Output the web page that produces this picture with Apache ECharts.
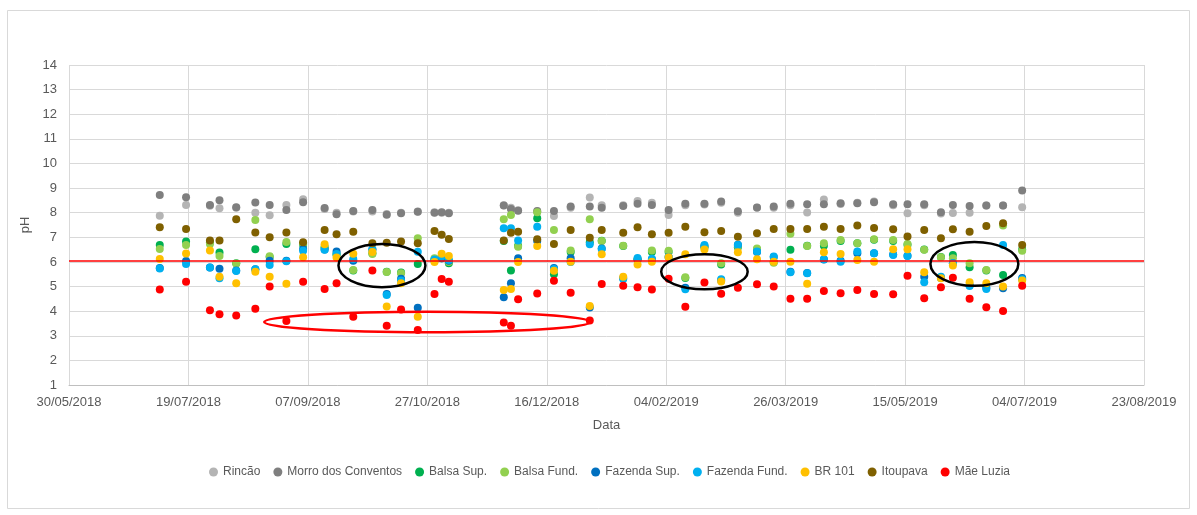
<!DOCTYPE html>
<html>
<head>
<meta charset="utf-8">
<title>pH</title>
<script src="https://cdn.jsdelivr.net/npm/echarts@6/dist/echarts.min.js"></script>
<style>
  html, body { margin: 0; padding: 0; background: #fff; }
  #phChart { width: 1197px; height: 515px; }
</style>
</head>
<body>
<div id="phChart"></div>
<script>
// datas de coleta
var datas = [
  "07/07/2018", "18/07/2018", "28/07/2018", "01/08/2018", "08/08/2018", "16/08/2018", "22/08/2018", "29/08/2018", "05/09/2018", "14/09/2018",
  "19/09/2018", "26/09/2018", "04/10/2018", "10/10/2018", "16/10/2018", "23/10/2018", "30/10/2018", "02/11/2018", "05/11/2018", "28/11/2018",
  "01/12/2018", "04/12/2018", "12/12/2018", "19/12/2018", "26/12/2018", "03/01/2019", "08/01/2019", "17/01/2019", "23/01/2019", "29/01/2019",
  "05/02/2019", "12/02/2019", "20/02/2019", "27/02/2019", "06/03/2019", "14/03/2019", "21/03/2019", "28/03/2019", "04/04/2019", "11/04/2019",
  "18/04/2019", "25/04/2019", "02/05/2019", "10/05/2019", "16/05/2019", "23/05/2019", "30/05/2019", "04/06/2019", "11/06/2019", "18/06/2019",
  "25/06/2019", "03/07/2019"
];

// pH por ponto
var rincao = [
  7.88, 8.31, 8.28, 8.18, 8.2, 8.0, 7.9, 8.31, 8.55, 8.15,
  8.0, 8.05, 8.05, 7.95, 8.0, 8.05, 8.02, 8.0, 8.0, 8.3,
  8.2, 8.1, 8.05, 7.87, 8.2, 8.62, 8.3, 8.3, 8.48, 8.4,
  7.91, 8.3, 8.33, 8.4, 8.0, 8.2, 8.2, 8.3, 8.01, 8.54,
  8.35, 8.4, 8.45, 8.3, 7.98, 8.3, 7.97, 7.99, 8.0, 8.29,
  8.29, 8.22
];
var morroConventos = [
  8.72, 8.63, 8.31, 8.51, 8.22, 8.41, 8.31, 8.11, 8.42, 8.19,
  7.94, 8.07, 8.11, 7.92, 7.98, 8.04, 8.0, 8.02, 7.98, 8.29,
  8.15, 8.08, 8.07, 8.07, 8.25, 8.25, 8.2, 8.27, 8.36, 8.31,
  8.11, 8.36, 8.36, 8.45, 8.06, 8.21, 8.25, 8.36, 8.34, 8.34,
  8.38, 8.38, 8.42, 8.34, 8.34, 8.34, 8.02, 8.31, 8.27, 8.29,
  8.29, 8.9
];
var balsaSup = [
  6.69, 6.83, 6.8, 6.38, 5.95, 6.51, 6.2, 6.73, 6.7, 6.6,
  6.3, 5.65, 6.35, 5.6, 5.57, 5.92, 6.1, 6.15, 5.95, 6.85,
  5.65, 6.66, 7.77, 5.5, 6.4, 6.8, 6.86, 6.65, 6.1, 6.4,
  6.4, 5.35, 6.6, 5.9, 6.6, 6.5, 6.0, 6.49, 6.66, 6.66,
  6.85, 6.76, 6.9, 6.85, 6.7, 6.5, 6.2, 6.28, 5.78, 5.65,
  5.47, 6.5
];
var balsaFund = [
  6.53, 6.69, 6.73, 6.24, 5.94, 7.7, 6.23, 6.81, 6.75, 6.6,
  6.3, 5.67, 6.32, 5.59, 5.54, 6.96, 6.15, 6.2, 6.0, 7.73,
  7.91, 6.62, 8.02, 7.3, 6.46, 7.73, 6.85, 6.66, 6.1, 6.46,
  6.45, 5.38, 6.6, 5.95, 6.65, 6.55, 5.97, 7.14, 6.65, 6.76,
  6.89, 6.76, 6.92, 6.89, 6.73, 6.49, 6.19, 6.15, 5.95, 5.67,
  7.48, 6.45
];
var fazendaSup = [
  5.75, 6.04, 5.77, 5.72, 5.65, 5.7, 6.05, 6.05, 6.53, 6.5,
  6.42, 6.05, 6.5, 4.7, 5.32, 4.14, 6.05, 6.15, 6.05, 4.56,
  5.13, 6.15, 6.85, 5.75, 6.15, 4.15, 6.55, 5.35, 6.1, 6.1,
  6.2, 4.95, 6.65, 5.25, 6.7, 6.4, 6.2, 5.6, 5.55, 6.1,
  6.05, 6.35, 6.35, 6.3, 6.25, 5.4, 5.35, 5.95, 5.05, 4.95,
  4.93, 5.35
];
var fazendaFund = [
  5.73, 5.92, 5.77, 5.34, 5.63, 5.7, 5.88, 6.03, 6.45, 6.49,
  6.32, 6.12, 6.51, 4.66, 5.25, 6.41, 6.1, 6.22, 6.08, 7.37,
  7.37, 6.87, 7.43, 5.71, 6.0, 6.72, 6.52, 5.31, 6.16, 6.13,
  6.2, 4.89, 6.69, 5.3, 6.69, 6.42, 6.22, 5.58, 5.54, 6.11,
  6.01, 6.42, 6.35, 6.28, 6.24, 5.17, 5.4, 5.95, 5.02, 4.9,
  6.69, 5.3
];
var br101 = [
  6.12, 6.34, 6.46, 5.4, 5.13, 5.6, 5.4, 5.11, 6.19, 6.72,
  6.18, 6.33, 6.4, 4.19, 5.13, 3.77, 6.0, 6.33, 6.24, 4.86,
  4.9, 6.0, 6.65, 5.64, 6.01, 4.21, 6.31, 5.4, 5.9, 6.01,
  6.19, 6.31, 6.5, 5.2, 6.39, 6.11, 6.01, 6.01, 5.11, 6.39,
  6.32, 6.08, 6.01, 6.51, 6.51, 5.58, 5.34, 5.85, 5.17, 5.13,
  5.0, 5.25
];
var itoupava = [
  7.41, 7.34, 6.87, 6.87, 7.73, 7.2, 7.0, 7.2, 6.8, 7.3,
  7.12, 7.23, 6.76, 6.78, 6.83, 6.76, 7.26, 7.1, 6.93, 6.87,
  7.19, 7.23, 6.92, 6.73, 7.3, 6.98, 7.3, 7.19, 7.41, 7.12,
  7.19, 7.43, 7.21, 7.26, 7.02, 7.16, 7.34, 7.34, 7.34, 7.43,
  7.34, 7.48, 7.38, 7.33, 7.03, 7.3, 6.96, 7.33, 7.23, 7.46,
  7.57, 6.69
];
var maeLuzia = [
  4.88, 5.19, 4.04, 3.87, 3.82, 4.1, 5.0, 3.6, 5.19, 4.9,
  5.13, 3.77, 5.65, 3.41, 4.07, 3.23, 4.7, 5.31, 5.19, 3.54,
  3.41, 4.48, 4.72, 5.24, 4.75, 3.62, 5.1, 5.03, 4.97, 4.88,
  5.32, 4.18, 5.16, 4.71, 4.95, 5.09, 5.0, 4.5, 4.5, 4.82,
  4.73, 4.86, 4.7, 4.69, 5.44, 4.52, 4.97, 5.36, 4.5, 4.16,
  4.01, 5.03
];

var pontos = ["Rincão", "Morro dos Conventos", "Balsa Sup.", "Balsa Fund.", "Fazenda Sup.", "Fazenda Fund.", "BR 101", "Itoupava", "Mãe Luzia"];
var valores = [rincao, morroConventos, balsaSup, balsaFund, fazendaSup, fazendaFund, br101, itoupava, maeLuzia];
var cores = ["#b4b4b4", "#7f7f7f", "#00b050", "#92d050", "#0070c0", "#00b0f0", "#ffc000", "#7f6000", "#ff0000"];

// limite de pH (linha vermelha)
var limitePH = 6.05;

// elipses de destaque (centro, meia largura em dias, meia altura em pH)
var elipseDatas = ["08/10/2018", "27/10/2018", "20/02/2019", "13/06/2019"];
var elipsePH = [5.85, 3.56, 5.6, 5.92];
var elipseRaioDias = [18.2, 68.3, 18.1, 18.4];
var elipseRaioPH = [0.88, 0.42, 0.71, 0.89];
var elipseCores = ["#000000", "#ff0000", "#000000", "#000000"];

// eixo x em dias seriais (como no Excel)
var eixoMin = "30/05/2018";
var eixoMax = "23/08/2019";
var eixoPasso = 50;

var base = Date.UTC(1899, 11, 30);
var umDia = 24 * 3600 * 1000;
function serial(s) {
  var p = s.split("/");
  return Math.round((Date.UTC(+p[2], +p[1] - 1, +p[0]) - base) / umDia);
}
function pad(n) {
  return n < 10 ? "0" + n : "" + n;
}
function textoData(v) {
  var d = new Date(base + v * umDia);
  return pad(d.getUTCDate()) + "/" + pad(d.getUTCMonth() + 1) + "/" + d.getUTCFullYear();
}

var fonte = "Liberation Sans";
var chartDom = document.getElementById("phChart");
var myChart = echarts.init(chartDom);

var series = pontos.map(function (nome, i) {
  return {
    name: nome,
    type: "scatter",
    symbol: "circle",
    symbolSize: 8,
    itemStyle: { color: cores[i], opacity: 1 },
    data: datas.map(function (d, j) {
      return [serial(d), valores[i][j]];
    })
  };
});

series.push({
  name: "destaques",
  type: "custom",
  silent: true,
  z: 5,
  data: elipseDatas.map(function (d, i) {
    return [serial(d), elipsePH[i], elipseRaioDias[i], elipseRaioPH[i]];
  }),
  renderItem: function (params, api) {
    var c = api.coord([api.value(0), api.value(1)]);
    var s = api.size([api.value(2), api.value(3)]);
    return {
      type: "ellipse",
      shape: { cx: c[0], cy: c[1], rx: s[0], ry: s[1] },
      style: { fill: "none", stroke: elipseCores[params.dataIndex], lineWidth: 2.5 }
    };
  },
  markLine: {
    silent: true,
    symbol: "none",
    label: { show: false },
    lineStyle: { color: "#ff0000", width: 1.5, type: "solid" },
    data: [{ yAxis: limitePH }]
  }
});

var option = {
  backgroundColor: "#ffffff",
  animation: false,
  textStyle: { fontFamily: fonte },
  graphic: [
    {
      type: "rect",
      shape: { x: 7.5, y: 10.5, width: 1182, height: 498 },
      style: { fill: "none", stroke: "#d9d9d9", lineWidth: 1 },
      silent: true
    }
  ],
  grid: { left: 69, right: 53, top: 65, bottom: 130 },
  legend: {
    data: pontos,
    top: 461,
    left: 204,
    icon: "circle",
    itemWidth: 9,
    itemHeight: 9,
    itemGap: 13,
    textStyle: { color: "#595959", fontSize: 12, fontFamily: fonte }
  },
  xAxis: {
    type: "value",
    min: serial(eixoMin),
    max: serial(eixoMax),
    interval: eixoPasso,
    name: "Data",
    nameLocation: "middle",
    nameGap: 34,
    nameTextStyle: { color: "#595959", fontSize: 13 },
    axisLine: { show: true, lineStyle: { color: "#bfbfbf" } },
    axisTick: { show: false },
    axisLabel: {
      color: "#595959",
      fontSize: 13,
      margin: 11,
      formatter: function (v) {
        return textoData(v);
      }
    },
    splitLine: { show: true, lineStyle: { color: "#d9d9d9" } }
  },
  yAxis: {
    type: "value",
    min: 1,
    max: 14,
    interval: 1,
    name: "pH",
    nameLocation: "middle",
    nameGap: 30,
    nameTextStyle: { color: "#595959", fontSize: 13 },
    axisLine: { show: false },
    axisTick: { show: false },
    axisLabel: { color: "#595959", fontSize: 13, margin: 12 },
    splitLine: { show: true, lineStyle: { color: "#d9d9d9" } }
  },
  series: series
};

option && myChart.setOption(option);
</script>
</body>
</html>
